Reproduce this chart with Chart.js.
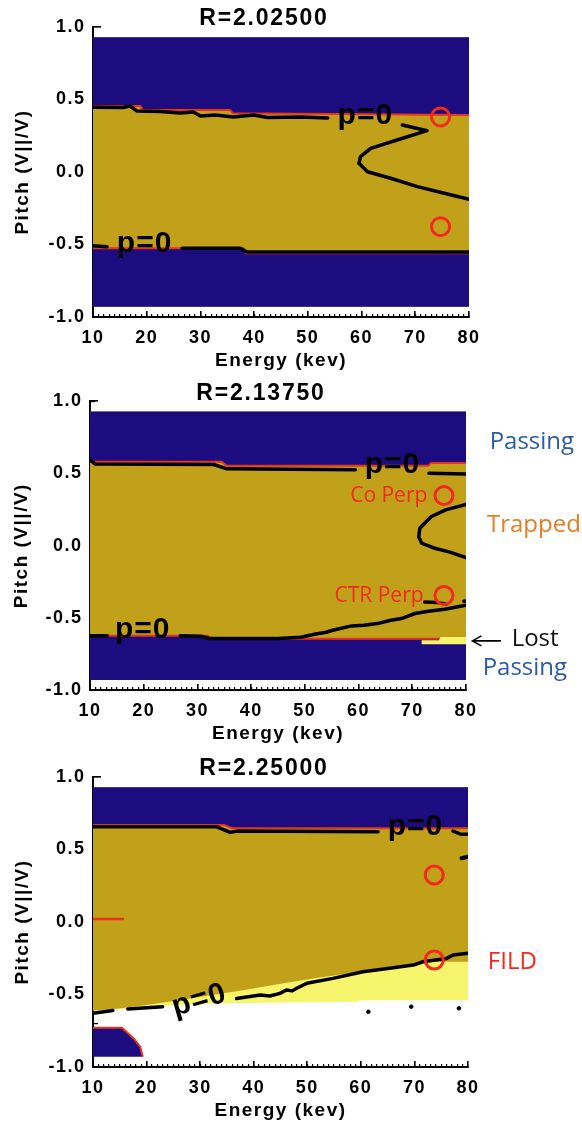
<!DOCTYPE html>
<html>
<head>
<meta charset="utf-8">
<title>Orbit type vs energy and pitch</title>
<script src="https://cdn.jsdelivr.net/npm/chart.js@4.4.1/dist/chart.umd.min.js"></script>
<style>
  body { margin: 0; background: #fff; }
  canvas { position: absolute; left: 0; }
</style>
</head>
<body>
<canvas id="r1" width="582" height="375" style="top:0px"></canvas>
<canvas id="r2" width="582" height="375" style="top:375px"></canvas>
<canvas id="r3" width="582" height="375" style="top:750px"></canvas>

<script>
// values, pairs are [energy keV, pitch V||/V]
const radii = ['R=2.02500', 'R=2.13750', 'R=2.25000'];
const gridEdge = 0.93;   // computed grid stops short of +-1

// R = 2.025
const r1PassTop = [[10,0.455],[18.8,0.455],[19.3,0.428],[35.5,0.428],[36,0.405],[55,0.4],[80,0.393]];
const r1PassBot = [[10,-0.526],[38,-0.526],[38.5,-0.56],[80,-0.56]];
const r1P0Top = [[10,0.446],[15.6,0.445],[16.9,0.455],[18.2,0.42],[22.5,0.417],[26.2,0.407],[28.7,0.414],
                 [30,0.386],[32.8,0.393],[36.1,0.379],[39.9,0.393],[42.5,0.376],[48.6,0.379],[53.7,0.372]];
const r1P0Hook = [[67.6,0.324],[72.2,0.285],[66.6,0.221],[61.7,0.163],[59.8,0.106],[59.5,0.06],[61.1,0.002],
                  [65.4,-0.043],[70.4,-0.101],[75.4,-0.147],[80,-0.188]];
const r1P0LowA = [[10,-0.508],[12.6,-0.515]];
const r1P0LowB = [[26.6,-0.526],[37.4,-0.526],[38.7,-0.552],[80,-0.552]];
const r1Probes = [[74.7,0.38],[74.7,-0.377]];

// R = 2.1375
const r2PassTop = [[10,0.581],[34.5,0.581],[35.5,0.553],[73,0.553],[73.5,0.573],[80,0.573]];
const r2PassBot = [[10,-0.625],[32,-0.625],[32.5,-0.645],[80,-0.645]];
const r2LostTop = [[71.7,-0.655],[75,-0.655],[75.2,-0.632],[80,-0.632]];
const r2LostBottom = -0.683;
const r2P0TopA = [[10,0.593],[11,0.565],[33,0.562],[35.5,0.532],[59.4,0.526]];
const r2P0TopB = [[73.1,0.501],[80,0.497]];
const r2P0Hook = [[80,0.285],[76.2,0.248],[73.5,0.2],[71.4,0.12],[71.2,0.06],[71.8,0.015],[74,-0.016],[77,-0.045],[80,-0.083]];
const r2P0LowA = [[10,-0.625],[13.2,-0.625]];
const r2P0LowB = [[26.8,-0.625],[30.7,-0.627],[32.2,-0.643],[45,-0.643],[49.2,-0.635],[52,-0.612],[54,-0.6],[55,-0.588],
                  [56,-0.579],[58.7,-0.556],[61,-0.552],[63.5,-0.54],[66,-0.517],[68,-0.505],[70.5,-0.47],[73,-0.455],[76,-0.44],[80,-0.413]];
const r2P0Stub = [[72.3,-0.39],[74.5,-0.393],[76.3,-0.405]];
const r2P0Tip = [[79.6,-0.385],[80,-0.384]];
const r2Probes = [[75.9,0.347],[75.9,-0.345]];

// R = 2.25
const r3PassTop = [[10,0.669],[34.5,0.669],[36,0.646],[80,0.646]];
const r3TrapBot = [[10,-0.61],[14,-0.6],[20,-0.573],[26,-0.54],[32,-0.505],[38,-0.47],[45,-0.425],[52,-0.385],
                   [60,-0.343],[68,-0.3],[71.5,-0.274],[80,-0.274]];
const r3LostBot = [[10,-0.61],[12,-0.61],[14,-0.603],[17,-0.6],[22,-0.585],[26,-0.572],[30,-0.565],[35,-0.56],
                   [45,-0.556],[59,-0.55],[60,-0.54],[80,-0.538]];
const r3PassBlob = [[10,-0.73],[15.4,-0.73],[17.5,-0.8],[18.8,-0.86],[19.3,-0.93]];
const r3Streak = [[10,0.02],[15.6,0.02]];
const r3P0TopA = [[10,0.657],[33,0.657],[35.6,0.618],[37,0.627],[63.2,0.623]];
const r3P0TopB = [[77.2,0.627],[78.5,0.607],[80,0.605]];
const r3P0Nub = [[78.8,0.44],[80,0.45]];
const r3P0LowA = [[10,-0.63],[13.7,-0.61]];
const r3P0LowB = [[16.5,-0.6],[23,-0.584]];
const r3P0LowC = [[36.8,-0.527],[39,-0.515],[41.2,-0.503],[43,-0.51],[44.9,-0.492],[46.1,-0.469],[47.2,-0.475],[48,-0.457],
                  [49.9,-0.423],[54.8,-0.389],[60.4,-0.343],[65,-0.32],[69.8,-0.297],[71.6,-0.274],[76,-0.251],[77.2,-0.228],[80,-0.216]];
const r3Dots = [[61.4,-0.619],[69.4,-0.584],[78.3,-0.595]];
const r3Probes = [[73.7,0.324],[73.7,-0.262]];

// colours
const BLUE = '#1c0c7f', GOLD = '#c1a11a', YELLOW = '#f7f56c', EDGE = '#e8321e', RED = '#f2291c';
const AXIS_FONT = '"Liberation Sans", Arial, sans-serif';
const NOTE_FONT = '"Open Sans", sans-serif';

function pts(a) { return a.map(d => ({x: d[0], y: d[1]})); }

function region(a, color, to, edge) {
  return {data: pts(a), backgroundColor: color, fill: {value: to},
          borderColor: edge || 'rgba(0,0,0,0)', borderWidth: edge ? 2 : 1, pointRadius: 0};
}
function curve(a, color, width) {
  return {data: pts(a), borderColor: color || '#000', borderWidth: width || 3.5, fill: false,
          pointRadius: 0, borderCapStyle: 'round', borderJoinStyle: 'round'};
}
function marks(a, radius, color, lw, filled) {
  return {data: pts(a), showLine: false, pointRadius: radius, pointBorderWidth: lw,
          pointBorderColor: color, pointBackgroundColor: filled ? color : 'rgba(0,0,0,0)'};
}

const wholeGrid = [[10, gridEdge], [80, gridEdge]];
const P0 = {font: 'bold 30px ' + AXIS_FONT, ls: '1px', dy: -2.8};
const side = (text, e, p, color, align, size) =>
  ({text, e, p, color, align: align || 'left', font: (size || 24) + 'px ' + NOTE_FONT});

const panels = [
  { id: 'r1', title: radii[0], box: {left: 93, right: 469, top: 27, bottom: 317, tx: 23},
    layers: [
      region(wholeGrid, GOLD, -gridEdge),
      region(r1PassTop, BLUE, gridEdge, EDGE),
      region(r1PassBot, BLUE, -gridEdge, EDGE),
      curve(r1P0Top), curve(r1P0Hook), curve(r1P0LowA), curve(r1P0LowB),
      marks(r1Probes, 9, RED, 3)
    ],
    notes: [
      Object.assign({text: 'p=0', e: 60.7, p: 0.37}, P0),
      Object.assign({text: 'p=0', e: 19.6, p: -0.515}, P0)
    ]
  },
  { id: 'r2', title: radii[1], box: {left: 90, right: 466, top: 25, bottom: 315, tx: 21.5},
    layers: [
      region(wholeGrid, GOLD, -gridEdge),
      region(r2PassTop, BLUE, gridEdge, EDGE),
      region(r2PassBot, BLUE, -gridEdge, EDGE),
      region(r2LostTop, YELLOW, r2LostBottom),
      curve(r2P0TopA), curve(r2P0TopB), curve(r2P0Hook),
      curve(r2P0LowA), curve(r2P0LowB), curve(r2P0Stub), curve(r2P0Tip),
      marks(r2Probes, 9, RED, 3)
    ],
    notes: [
      Object.assign({text: 'p=0', e: 66.3, p: 0.541}, P0),
      Object.assign({text: 'p=0', e: 19.8, p: -0.602}, P0),
      side('Passing', 84.4, 0.714, '#2a5ba8'),
      side('Trapped', 83.9, 0.139, '#e47e25'),
      side('Lost', 88.5, -0.648, '#111'),
      side('Passing', 83.1, -0.85, '#2a5ba8'),
      side('Co Perp', 72.8, 0.346, RED, 'right', 21),
      side('CTR Perp', 72.1, -0.35, RED, 'right', 21)
    ],
    arrow: {from: [86.5, -0.66], to: [81.2, -0.66]}
  },
  { id: 'r3', title: radii[2], box: {left: 93, right: 468, top: 27, bottom: 317, tx: 23},
    layers: [
      region(r3LostBot, YELLOW, 0),
      region(r3TrapBot, GOLD, gridEdge),
      region(r3PassTop, BLUE, gridEdge, EDGE),
      region(r3PassBlob, BLUE, -gridEdge, EDGE),
      curve(r3Streak, EDGE, 2.5),
      curve(r3P0TopA), curve(r3P0TopB), curve(r3P0Nub, '#000', 4),
      curve(r3P0LowA), curve(r3P0LowB), curve(r3P0LowC),
      marks(r3Dots, 1.8, '#000', 1, true),
      marks(r3Probes, 9, RED, 3)
    ],
    notes: [
      Object.assign({text: 'p=0', e: 70.2, p: 0.64}, P0),
      Object.assign({text: 'p=0', e: 30, p: -0.56, rot: -16}, P0),
      side('FILD', 83.7, -0.274, RED)
    ]
  }
];
const panelById = {};
panels.forEach(p => { panelById[p.id] = p; });

// titles, p=0 labels and the side notes
const annotate = {
  id: 'annotate',
  beforeUpdate(chart) { chart.ctx.letterSpacing = '1.5px'; },
  beforeDraw(chart) { chart.ctx.letterSpacing = '1.5px'; },
  afterDraw(chart) {
    const p = panelById[chart.canvas.id];
    const {ctx, chartArea: a} = chart;
    const X = chart.scales.x, Y = chart.scales.y;
    ctx.save();
    ctx.font = 'bold 23px ' + AXIS_FONT;
    ctx.letterSpacing = '1.8px';
    ctx.fillStyle = '#000';
    ctx.textAlign = 'center';
    ctx.textBaseline = 'middle';
    ctx.fillText(p.title, a.left + 171, a.top - 8);

    p.notes.forEach(n => {
      ctx.save();
      ctx.translate(X.getPixelForValue(n.e), Y.getPixelForValue(n.p));
      if (n.rot) ctx.rotate(n.rot * Math.PI / 180);
      ctx.font = n.font;
      ctx.letterSpacing = n.ls || '0px';
      ctx.fillStyle = n.color || '#000';
      ctx.textAlign = n.align || 'center';
      ctx.textBaseline = 'middle';
      ctx.fillText(n.text, 0, n.dy || 0);
      ctx.restore();
    });

    if (p.arrow) {
      const x0 = X.getPixelForValue(p.arrow.from[0]), y0 = Y.getPixelForValue(p.arrow.from[1]);
      const x1 = X.getPixelForValue(p.arrow.to[0]), y1 = Y.getPixelForValue(p.arrow.to[1]);
      ctx.strokeStyle = '#000';
      ctx.lineWidth = 1.6;
      ctx.beginPath();
      ctx.moveTo(x0, y0); ctx.lineTo(x1, y1);
      ctx.moveTo(x1 + 9, y1 - 5); ctx.lineTo(x1, y1); ctx.lineTo(x1 + 9, y1 + 5);
      ctx.stroke();
    }
    ctx.restore();
  }
};

function axes(g, xh) {
  const bold = size => ({family: AXIS_FONT, size: size, weight: 'bold'});
  return {
    x: {type: 'linear', axis: 'x', position: 'bottom', weight: 1, z: 1, min: 10, max: 80,
        ticks: {stepSize: 10, padding: 16, color: '#000', font: bold(18), maxRotation: 0, autoSkip: false},
        grid: {drawOnChartArea: false, tickLength: -6, lineWidth: 1.6, color: '#000'},
        border: {width: 2, color: '#000'},
        title: {display: true, text: 'Energy (kev)', color: '#000', font: bold(19), padding: 0},
        afterFit: s => { s.height = xh; }},
    xMinor: {type: 'linear', axis: 'x', position: 'bottom', weight: 0, z: 1, min: 10, max: 80,
        ticks: {stepSize: 1, display: false},
        grid: {drawOnChartArea: false, tickLength: -3, lineWidth: 1.2, color: '#000'},
        border: {display: false},
        afterFit: s => { s.height = 0; }},
    y: {type: 'linear', axis: 'y', position: 'left', weight: 1, z: 1, min: -1, max: 1,
        ticks: {stepSize: 0.5, padding: 15.5, color: '#000', font: bold(18), callback: v => v.toFixed(1)},
        grid: {drawOnChartArea: false, tickLength: -8, lineWidth: 1.6, color: '#000'},
        border: {width: 2, color: '#000'},
        title: {display: true, text: 'Pitch (V||/V)', color: '#000', font: bold(19),
                padding: {top: g.tx - 11.4, bottom: 0}},
        afterFit: s => { s.width = g.left; }},
    yMinor: {type: 'linear', axis: 'y', position: 'left', weight: 0, z: 1, min: -1, max: 1,
        ticks: {stepSize: 0.1, display: false},
        grid: {drawOnChartArea: false, tickLength: -5, lineWidth: 1.2, color: '#000'},
        border: {display: false},
        afterFit: s => { s.width = 0; }}
  };
}

panels.forEach(p => {
  const g = p.box, xh = 55.4;
  const sets = p.layers.map((d, i, all) =>
    Object.assign({order: all.length - i, tension: 0, xAxisID: 'x', yAxisID: 'y'}, d));
  new Chart(document.getElementById(p.id), {
    type: 'line',
    data: {datasets: sets},
    options: {
      responsive: false,
      animation: false,
      events: [],
      layout: {autoPadding: false,
               padding: {left: 0, top: g.top, right: 582 - g.right, bottom: 375 - g.bottom - xh}},
      plugins: {legend: {display: false}, tooltip: {enabled: false}, title: {display: false}},
      scales: axes(g, xh)
    },
    plugins: [annotate]
  });
});
</script>
</body>
</html>
